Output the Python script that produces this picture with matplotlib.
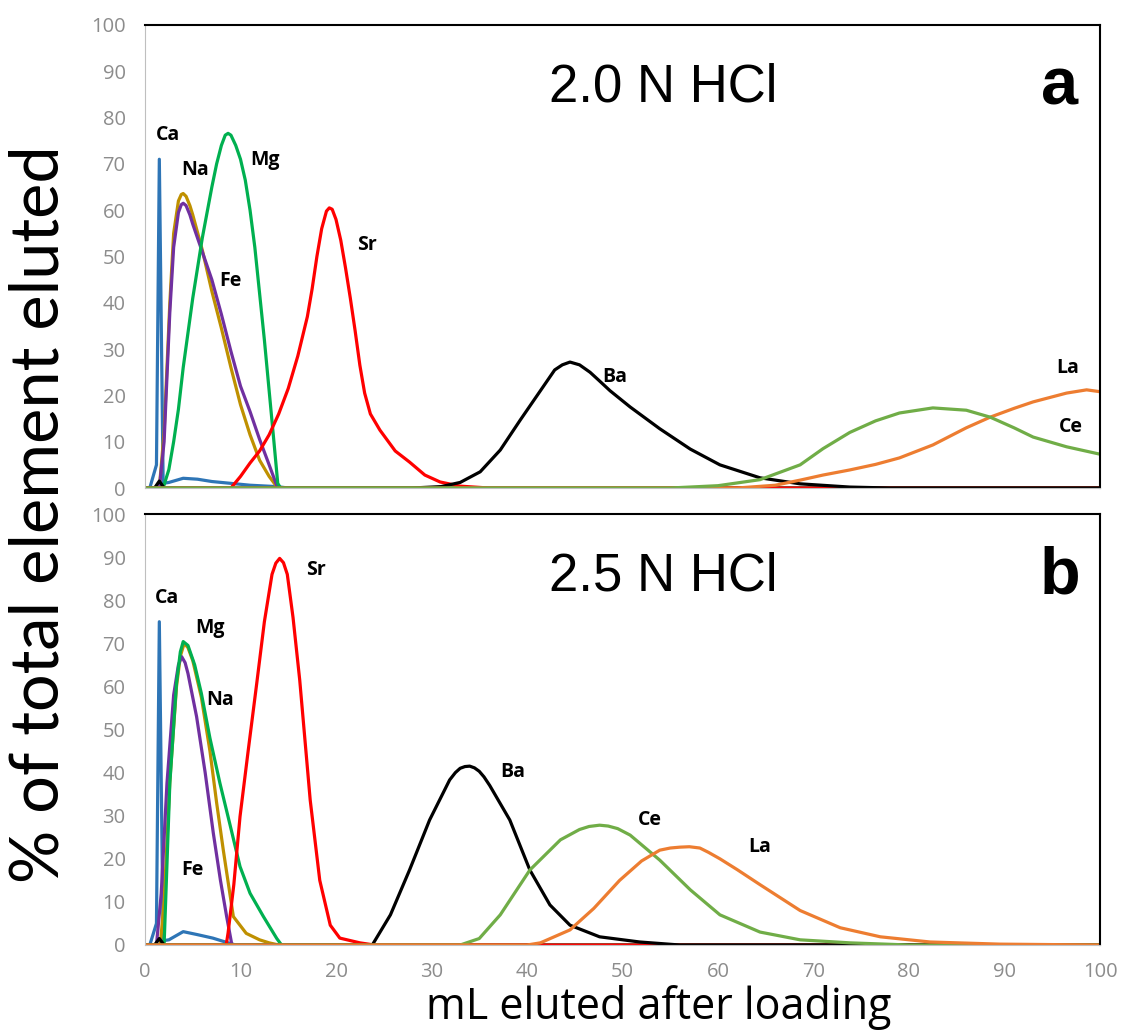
import numpy as np
from matplotlib import pyplot as plt

# panel a, 2.0 N HCl
xa_ca = [0, 0.5, 1.2, 1.5, 1.9, 2.5, 4, 5.5, 7, 9, 11, 13.8, 15, 100]
ya_ca = [0, 0, 5, 71, 1, 1.2, 2.1, 1.9, 1.4, 1.0, 0.6, 0.3, 0, 0]
xa_na = [0, 1.5, 2, 2.6, 3, 3.5, 3.8, 4, 4.3, 4.7, 5, 6, 7, 8, 9, 10, 11, 12, 13, 13.8, 14, 100]
ya_na = [0, 0, 12, 40, 55, 62, 63.4, 63.6, 63, 61, 59, 51.4, 42.5, 34.5, 26, 18, 11.5, 6, 2.5, 0.3, 0, 0]
xa_fe = [0, 1.5, 2, 2.6, 3, 3.5, 3.8, 4, 4.3, 4.7, 5, 6, 7, 8, 9, 10, 11, 12, 13, 13.8, 14, 100]
ya_fe = [0, 0, 10, 38, 52, 59.5, 61.2, 61.5, 61, 59, 57, 51, 45, 37.5, 29.5, 22, 16.5, 10.5, 5, 0.5, 0, 0]
xa_mg = [0, 1.9, 2.5, 3, 3.5, 4, 5, 6, 7, 7.5, 8, 8.4, 8.7, 9, 9.5, 10, 10.5, 11, 11.5, 12,
         12.5, 13, 13.5, 13.9, 14.2, 100]
ya_mg = [0, 0, 4, 10, 17, 26, 41, 54, 65, 70, 74, 76.2, 76.6, 76.2, 74, 71, 66.5, 60, 52, 42,
         32, 21, 10, 1, 0, 0]
xa_sr = [0, 9, 10, 11, 12, 13, 14, 15, 16, 17, 17.5, 18, 18.5, 19, 19.3, 19.6, 20, 20.5, 21,
         21.5, 22, 22.5, 23, 23.6, 24.6, 26.2, 27.7, 29.3, 30.9, 33, 36, 100]
ya_sr = [0, 0, 2.5, 5.4, 8, 11.5, 16, 21.5, 28.5, 37, 43, 50, 56, 59.8, 60.5, 60.2, 58, 53.5, 47.5,
         41, 34, 26.5, 20.5, 16, 12.5, 8, 5.6, 2.8, 1.3, 0.4, 0, 0]
xa_ba = [0, 1, 1.5, 2, 28, 31, 33, 35.1, 37.2, 39.3, 41.4, 42.9, 43.7, 44.5, 45.5, 46.6, 47.5,
         48.7, 50.8, 53.9, 57.1, 60.2, 64.4, 68.6, 73.8, 78, 100]
ya_ba = [0, 0, 1.5, 0, 0, 0.3, 1.2, 3.5, 8.2, 14.7, 21, 25.5, 26.6, 27.2, 26.6, 25, 23.3,
         21, 17.5, 12.8, 8.4, 5, 2.2, 0.9, 0.2, 0, 0]
xa_ce = [0, 55, 60, 64.4, 68.6, 71, 73.8, 76.5, 79, 82.5, 86, 88.5, 91, 93, 96.5, 100]
ya_ce = [0, 0, 0.5, 1.8, 5, 8.5, 12, 14.5, 16.2, 17.3, 16.8, 15.3, 13, 11, 8.9, 7.3]
xa_la = [0, 62, 66, 68.6, 71, 73.8, 76.5, 79, 82.5, 86, 88.5, 91, 93, 96.5, 98.6, 100]
ya_la = [0, 0, 0.6, 1.7, 2.8, 3.9, 5.1, 6.5, 9.3, 13, 15.3, 17.2, 18.6, 20.5, 21.2, 20.8]

# panel b, 2.5 N HCl
xb_ca = [0, 0.5, 1.2, 1.5, 1.9, 2.5, 4, 5.5, 7.1, 8.7, 9.5, 100]
yb_ca = [0, 0, 5, 75, 1, 1.2, 3.1, 2.4, 1.6, 0.5, 0, 0]
xb_mg = [0, 2, 2.6, 3.3, 3.7, 4, 4.5, 5.2, 5.9, 6.8, 7.85, 9, 9.95, 11, 12.4, 13.8, 14.3, 100]
yb_mg = [0, 0, 37.5, 60.8, 68, 70.4, 69.5, 65, 58.4, 48, 37.5, 27, 18.2, 12, 6.6, 1.5, 0, 0]
xb_na = [0, 1.6, 2, 2.6, 3.3, 3.7, 4.1, 4.5, 5, 5.9, 6.8, 7.5, 8.2, 9.25, 10.6, 12, 13, 14, 100]
yb_na = [0, 0, 10, 38, 60, 67, 70, 69, 66, 57.5, 45, 33, 22, 6.6, 2.7, 1.2, 0.5, 0, 0]
xb_fe = [0, 1.2, 1.7, 2.3, 3, 3.5, 3.84, 4.2, 4.5, 5.4, 6.3, 7.15, 7.9, 8.55, 9.1, 100]
yb_fe = [0, 0, 12, 37.5, 58, 65, 66.9, 65.5, 63, 53, 40, 26, 15, 6.6, 0, 0]
xb_sr = [0, 8.5, 8.7, 9.3, 9.95, 10.8, 11.7, 12.5, 13.3, 13.7, 14.1, 14.5, 14.9, 15.5, 16.2,
         17.3, 18.3, 19.4, 20.4, 22.5, 24, 100]
yb_sr = [0, 0, 2.8, 14, 29.8, 45, 60.7, 75, 86, 88.6, 89.7, 88.7, 86, 76, 61.5,
         33.6, 15, 4.6, 1.6, 0.5, 0, 0]
xb_ba = [0, 1, 1.5, 2, 23.8, 25.7, 27.7, 29.8, 31.9, 32.5, 33, 33.5, 34, 34.5, 35, 35.5, 36.1,
         38.2, 40.3, 42.4, 44.5, 47.6, 51.8, 56, 100]
yb_ba = [0, 0, 1.5, 0, 0, 7, 17.4, 29, 38.3, 40, 41, 41.4, 41.5, 41.1, 40.3, 39, 37,
         29, 17.4, 9.3, 4.6, 1.9, 0.7, 0, 0]
xb_ce = [0, 33, 35, 37.2, 40.3, 43.5, 45.5, 46.5, 47.6, 48.5, 49.5, 50.8, 53.9, 57.1, 60.2,
         64.4, 68.6, 73.8, 80, 100]
yb_ce = [0, 0, 1.5, 7, 17.4, 24.4, 26.8, 27.5, 27.8, 27.6, 27, 25.5, 19.7, 12.8, 7,
         3, 1.2, 0.5, 0, 0]
xb_la = [0, 40, 41.4, 44.5, 47, 49.7, 52, 53.9, 55, 56, 57, 58.1, 59, 60.2, 62, 64.4, 68.6,
         72.8, 77, 82.2, 89.5, 100]
yb_la = [0, 0, 0.5, 3.5, 8.5, 15, 19.5, 22, 22.5, 22.7, 22.8, 22.5, 21.5, 20, 17.5, 14, 8,
         4, 1.9, 0.7, 0.2, 0]

colores = {'Ca': '#2e75b6', 'Na': '#bf9000', 'Fe': '#7030a0', 'Mg': '#00b050',
           'Sr': '#ff0000', 'Ba': '#000000', 'Ce': '#70ad47', 'La': '#ed7d31'}

serie_a = [('Ca', xa_ca, ya_ca), ('Na', xa_na, ya_na), ('Fe', xa_fe, ya_fe),
           ('Mg', xa_mg, ya_mg), ('Sr', xa_sr, ya_sr), ('Ba', xa_ba, ya_ba),
           ('La', xa_la, ya_la), ('Ce', xa_ce, ya_ce)]
serie_b = [('Ca', xb_ca, yb_ca), ('Na', xb_na, yb_na), ('Fe', xb_fe, yb_fe),
           ('Mg', xb_mg, yb_mg), ('Sr', xb_sr, yb_sr), ('Ba', xb_ba, yb_ba),
           ('Ce', xb_ce, yb_ce), ('La', xb_la, yb_la)]

# etiquetas de cada elemento (x, y en datos)
etiq_a = {'Ca': (2.4, 76.2), 'Na': (5.2, 68.7), 'Mg': (12.6, 70.8), 'Fe': (8.9, 44.7),
          'Sr': (23.2, 52.5), 'Ba': (49.2, 24), 'La': (96.6, 25.9), 'Ce': (97, 13.2)}
etiq_b = {'Ca': (2.3, 80.5), 'Mg': (6.8, 73.5), 'Na': (7.9, 56.8), 'Fe': (5, 17.4),
          'Sr': (17.9, 87), 'Ba': (38.5, 40.1), 'Ce': (52.9, 29), 'La': (64.4, 22.7)}

fig = plt.figure(figsize=(11.21, 10.36), dpi=100)
W, H = 1121, 1036
ax1 = fig.add_axes([145/W, 1-488/H, 955/W, 463/H])
ax2 = fig.add_axes([145/W, 1-945/H, 955/W, 431/H])

def panel(ax, series, etiq, titulo, letra, ty, conx):
    for nombre, xs, ys in series:
        ax.plot(xs, ys, color=colores[nombre], lw=2.3, solid_joinstyle='round')
    for nombre, (tx, tyy) in etiq.items():
        ax.text(tx, tyy, nombre, fontsize=14, fontweight='bold', family='Open Sans',
                ha='center', va='center', color='black')
    ax.text(54.3, ty, titulo, fontsize=38, family='Liberation Sans', ha='center', va='center')
    ax.text(95.8, ty, letra, fontsize=48, fontweight='bold', family='Liberation Sans',
            ha='center', va='center')
    ax.set_xlim(0, 100)
    ax.set_ylim(0, 100)
    ax.set_yticks(np.arange(0, 101, 10))
    ax.set_xticks(np.arange(0, 101, 10))
    ax.tick_params(length=0, labelsize=14.5, labelcolor='#8c8c8c', pad=14)
    for t in ax.get_yticklabels() + ax.get_xticklabels():
        t.set_family('Open Sans')
    ax.spines['left'].set_color('#bfbfbf')
    ax.spines['bottom'].set_color('#bfbfbf')
    ax.spines['top'].set_linewidth(1.5)
    ax.spines['right'].set_linewidth(1.5)
    if not conx:
        ax.tick_params(labelbottom=False)

panel(ax1, serie_a, etiq_a, '2.0 N HCl', 'a', 86.5, False)
panel(ax2, serie_b, etiq_b, '2.5 N HCl', 'b', 85.5, True)
ax2.tick_params(axis='x', pad=12)

fig.text(659/W, 1-1008/H, 'mL eluted after loading', fontsize=31, family='Open Sans',
         ha='center', va='center')
fig.text(40/W, 1-514/H, '% of total element eluted', fontsize=48, family='Lato',
         ha='center', va='center', rotation=90)

plt.savefig('out.png', dpi=100)
